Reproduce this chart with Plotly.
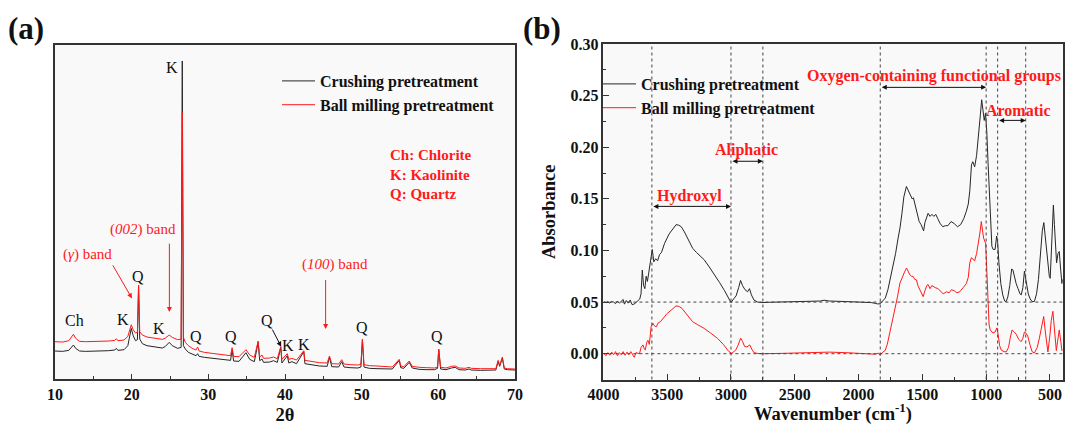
import plotly.graph_objects as go

# ---------------- Panel (a): XRD ----------------
two_theta = [10.0, 11.0, 11.8, 12.2, 12.4, 12.7, 13.2, 14.0, 15.0, 16.0, 17.0, 17.8, 18.0, 18.2,
             19.0, 19.5, 19.8, 19.95, 20.2, 20.5, 20.75, 20.9, 21.05, 21.4, 22.0, 23.0, 24.0, 24.4,
             24.9, 25.3, 26.0, 26.45, 26.6, 26.75, 27.0, 27.4, 27.9, 28.4, 28.6, 28.8, 29.5, 30.5,
             31.5, 32.5, 32.9, 33.1, 33.3, 34.0, 34.9, 35.4, 36.0, 36.5, 36.7, 37.0, 37.2, 38.0,
             38.5, 39.0, 39.45, 39.6, 40.3, 40.5, 40.9, 41.5, 42.45, 42.6, 43.5, 44.5, 45.5, 45.8,
             46.1, 47.0, 47.4, 47.7, 48.5, 49.5, 49.9, 50.1, 50.3, 51.0, 52.0, 53.0, 54.0, 54.9,
             55.1, 55.5, 56.2, 56.6, 57.5, 58.5, 59.5, 59.9, 60.05, 60.3, 61.0, 61.7, 62.2, 62.7,
             63.5, 64.0, 64.3, 65.5, 66.5, 67.5, 67.8, 68.0, 68.35, 68.6, 69.0, 70.0]
xrd_crushing = [8.4, 8.3, 8.6, 9.6, 10.2, 9.2, 8.4, 8.3, 8.3, 8.4, 8.5, 8.7, 9.2, 8.6,
                8.8, 10.0, 14.0, 15.2, 13.0, 11.5, 11.8, 28.0, 12.0, 10.6, 10.0, 9.6, 9.3, 9.8,
                11.0, 10.0, 9.2, 9.5, 95.5, 10.0, 9.0, 8.0, 7.4, 7.0, 7.6, 6.8, 6.5, 6.2,
                5.9, 5.6, 5.6, 8.8, 5.4, 5.3, 7.9, 5.9, 5.2, 11.0, 5.5, 6.0, 5.0, 5.1,
                5.5, 5.0, 9.5, 4.8, 7.0, 4.8, 5.2, 4.6, 8.2, 4.6, 4.2, 3.9, 3.8, 6.5,
                3.7, 3.6, 5.2, 3.6, 3.4, 3.3, 3.6, 11.8, 3.6, 3.2, 3.1, 3.0, 3.0, 5.6,
                3.4, 3.2, 5.0, 3.3, 2.9, 2.8, 2.8, 3.2, 8.8, 3.0, 2.8, 3.3, 3.5, 2.8,
                2.7, 3.0, 2.7, 2.6, 2.6, 2.7, 5.3, 3.8, 6.3, 3.0, 2.8, 2.7]
xrd_ball = [11.2, 11.1, 11.5, 12.6, 13.4, 12.2, 11.3, 11.2, 11.2, 11.3, 11.4, 11.6, 12.1, 11.5,
            11.7, 12.8, 15.5, 16.3, 14.8, 13.8, 14.0, 28.2, 14.2, 13.2, 12.6, 12.2, 11.9, 12.3,
            13.2, 12.5, 11.8, 12.0, 80.0, 12.5, 11.0, 10.0, 9.2, 8.7, 9.6, 8.4, 8.0, 7.7,
            7.4, 7.1, 7.0, 9.4, 6.8, 6.7, 8.8, 7.2, 6.5, 11.4, 6.6, 7.2, 6.2, 6.3,
            6.6, 6.1, 9.7, 5.9, 7.6, 5.9, 6.2, 5.7, 8.5, 5.6, 5.2, 4.9, 4.8, 6.9,
            4.6, 4.5, 5.8, 4.5, 4.3, 4.2, 4.4, 12.0, 4.3, 4.0, 3.9, 3.7, 3.6, 5.9,
            3.9, 3.7, 5.4, 3.8, 3.5, 3.4, 3.3, 3.6, 9.0, 3.5, 3.3, 3.8, 3.9, 3.3,
            3.2, 3.5, 3.2, 3.1, 3.0, 3.1, 5.6, 4.1, 6.6, 3.3, 3.1, 3.0]
xrd_ticks = [10, 20, 30, 40, 50, 60, 70]

# phase labels: text, 2theta, height
phase_text = ["K", "Ch", "K", "Q", "K", "Q", "Q", "Q", "K", "K", "Q", "Q"]
phase_x = [25.2, 12.6, 18.9, 20.8, 23.6, 28.45, 32.9, 37.6, 40.4, 42.5, 50.1, 59.8]
phase_y = [93.5, 17.5, 18.0, 30.8, 15.3, 12.9, 12.7, 17.5, 10.2, 10.5, 15.4, 12.9]

# ---------------- Panel (b): FTIR ----------------
wn_crushing = [3995, 3980, 3965, 3950, 3935, 3920, 3905, 3890, 3875, 3860, 3845, 3835, 3820, 3805,
               3790, 3775, 3760, 3745, 3730, 3715, 3705, 3695, 3685, 3675, 3665, 3655, 3645, 3635,
               3625, 3617, 3605, 3590, 3575, 3560, 3545, 3520, 3485, 3450, 3430, 3410, 3390, 3365,
               3330, 3300, 3270, 3240, 3210, 3170, 3130, 3090, 3050, 3020, 3000, 2980, 2960, 2940,
               2925, 2910, 2890, 2870, 2855, 2840, 2820, 2790, 2760, 2700, 2600, 2500, 2400, 2300,
               2270, 2230, 2100, 2000, 1950, 1900, 1870, 1850, 1830, 1810, 1790, 1770, 1750, 1730,
               1710, 1690, 1675, 1660, 1645, 1625, 1610, 1595, 1580, 1570, 1555, 1540, 1525, 1510,
               1500, 1490, 1480, 1465, 1455, 1440, 1425, 1410, 1395, 1380, 1360, 1340, 1320, 1300,
               1275, 1250, 1225, 1200, 1175, 1155, 1140, 1128, 1115, 1105, 1090, 1075, 1060, 1045,
               1035, 1025, 1015, 1005, 995, 985, 975, 965, 955, 945, 930, 918, 910, 900,
               885, 870, 855, 843, 830, 815, 800, 790, 775, 765, 750, 735, 725, 712,
               700, 690, 680, 670, 655, 640, 622, 605, 590, 575, 560, 548, 535, 520,
               505, 498, 488, 478, 473, 465, 455, 448, 437, 427, 415, 406, 401]
abs_crushing = [0.050, 0.0495, 0.0505, 0.049, 0.0505, 0.050, 0.0485, 0.051, 0.049, 0.0505, 0.0525, 0.048, 0.0515, 0.049,
                0.052, 0.0475, 0.048, 0.0495, 0.051, 0.053, 0.058, 0.081, 0.066, 0.063, 0.075, 0.070, 0.078, 0.085,
                0.092, 0.101, 0.089, 0.092, 0.090, 0.096, 0.098, 0.107, 0.116, 0.122, 0.125, 0.1245, 0.123, 0.118,
                0.109, 0.102, 0.098, 0.094, 0.091, 0.084, 0.077, 0.069, 0.061, 0.054, 0.0495, 0.053, 0.056, 0.064,
                0.071, 0.066, 0.062, 0.060, 0.063, 0.057, 0.052, 0.050, 0.0495, 0.0498, 0.050, 0.0505, 0.0505, 0.051,
                0.0518, 0.051, 0.0505, 0.0502, 0.050, 0.0495, 0.0488, 0.0482, 0.0484, 0.051, 0.054, 0.062, 0.073, 0.084,
                0.097, 0.112, 0.122, 0.136, 0.152, 0.162, 0.158, 0.153, 0.150, 0.151, 0.143, 0.137, 0.128, 0.125,
                0.121, 0.119, 0.127, 0.133, 0.136, 0.133, 0.135, 0.133, 0.135, 0.131, 0.126, 0.123, 0.124, 0.124,
                0.128, 0.126, 0.123, 0.125, 0.131, 0.138, 0.145, 0.158, 0.183, 0.186, 0.181, 0.192, 0.209, 0.232,
                0.246, 0.232, 0.226, 0.233, 0.215, 0.185, 0.155, 0.128, 0.104, 0.101, 0.101, 0.114, 0.108, 0.088,
                0.068, 0.057, 0.051, 0.0505, 0.055, 0.066, 0.082, 0.081, 0.072, 0.068, 0.063, 0.058, 0.057, 0.064,
                0.080, 0.072, 0.064, 0.058, 0.053, 0.0505, 0.0505, 0.058, 0.072, 0.098, 0.119, 0.127, 0.112, 0.090,
                0.075, 0.073, 0.100, 0.138, 0.144, 0.125, 0.096, 0.088, 0.097, 0.099, 0.080, 0.068, 0.072]

wn_ball = [3995, 3980, 3965, 3950, 3935, 3920, 3905, 3890, 3875, 3860, 3845, 3830, 3815, 3800,
           3785, 3770, 3758, 3745, 3730, 3717, 3705, 3690, 3680, 3672, 3660, 3651, 3640, 3632,
           3626, 3612, 3600, 3586, 3570, 3553, 3540, 3522, 3500, 3470, 3445, 3431, 3415, 3405,
           3385, 3366, 3340, 3301, 3260, 3210, 3160, 3106, 3060, 3016, 2994, 2975, 2963, 2945,
           2924, 2910, 2893, 2875, 2853, 2835, 2820, 2790, 2750, 2600, 2450, 2300, 2270, 2230,
           2100, 2000, 1950, 1900, 1870, 1845, 1832, 1815, 1792, 1775, 1753, 1735, 1714, 1695,
           1676, 1660, 1640, 1624, 1610, 1598, 1585, 1572, 1560, 1546, 1535, 1520, 1505, 1494,
           1480, 1465, 1455, 1440, 1425, 1416, 1400, 1376, 1355, 1337, 1310, 1290, 1272, 1250,
           1230, 1207, 1180, 1155, 1140, 1129, 1116, 1100, 1090, 1075, 1064, 1050, 1038, 1028,
           1020, 1004, 995, 986, 977, 968, 947, 930, 916, 905, 895, 882, 860, 843,
           825, 810, 797, 780, 765, 745, 726, 712, 700, 688, 674, 655, 640, 622,
           600, 583, 565, 549, 535, 516, 500, 490, 477, 465, 450, 440, 427, 415,
           406, 401]
abs_ball = [0.000, -0.002, 0.001, -0.0015, 0.0015, -0.001, 0.002, -0.002, 0.001, -0.001, 0.002, -0.0015, 0.0015, -0.001,
            0.002, -0.002, -0.0035, 0.001, 0.0005, 0.000, 0.006, 0.0085, 0.005, 0.0035, 0.011, 0.013, 0.009, 0.019,
            0.026, 0.0295, 0.027, 0.026, 0.030, 0.031, 0.033, 0.036, 0.039, 0.042, 0.045, 0.0463, 0.046, 0.0456,
            0.044, 0.041, 0.037, 0.031, 0.028, 0.0245, 0.020, 0.0149, 0.009, 0.002, 0.0003, 0.002, 0.0035, 0.008,
            0.015, 0.012, 0.007, 0.0065, 0.0085, 0.004, 0.001, 0.0002, 0.000, 0.0003, 0.001, 0.0015, 0.002, 0.0015,
            0.001, 0.0005, 0.0003, 0.000, -0.0005, 0.0005, -0.0015, 0.001, 0.003, 0.009, 0.0213, 0.031, 0.0424, 0.055,
            0.0683, 0.074, 0.079, 0.083, 0.079, 0.0764, 0.075, 0.0748, 0.072, 0.0715, 0.066, 0.062, 0.058, 0.0553,
            0.061, 0.066, 0.067, 0.063, 0.066, 0.065, 0.064, 0.063, 0.060, 0.058, 0.060, 0.059, 0.062, 0.061,
            0.059, 0.060, 0.064, 0.068, 0.074, 0.0875, 0.093, 0.091, 0.090, 0.097, 0.104, 0.116, 0.128, 0.119,
            0.112, 0.107, 0.075, 0.039, 0.028, 0.023, 0.020, 0.021, 0.025, 0.018, 0.008, 0.0036, 0.002, 0.0017,
            0.006, 0.016, 0.023, 0.021, 0.019, 0.014, 0.0116, 0.015, 0.021, 0.020, 0.017, 0.008, 0.002, 0.0007,
            0.006, 0.015, 0.027, 0.036, 0.020, 0.0017, 0.018, 0.032, 0.041, 0.022, 0.003, 0.012, 0.023, 0.012,
            0.003, 0.004]

region_lines = [3620, 3000, 2750, 1830, 1000, 910, 690]
baselines = [0.05, 0.00]
band_names = ["Hydroxyl", "Aliphatic", "Oxygen-containing functional groups", "Aromatic"]
band_text_x = [3327, 2876, 1405, 743]
band_text_y = [0.153, 0.197, 0.269, 0.2356]
band_from = [3620, 3000, 1830, 910]
band_to = [3000, 2750, 1000, 690]
band_arrow_y = [0.1427, 0.1864, 0.258, 0.226]

W, H = 1065, 425
SERIF = "Liberation Serif, Times New Roman, serif"
BLACK = "#262626"
RED = "#ff1a1a"

fig = go.Figure()
fig.add_trace(go.Scatter(x=two_theta, y=xrd_crushing, mode="lines", name="Crushing pretreatment",
                         line=dict(color=BLACK, width=1), xaxis="x", yaxis="y", legend="legend"))
fig.add_trace(go.Scatter(x=two_theta, y=xrd_ball, mode="lines", name="Ball milling pretreatment",
                         line=dict(color=RED, width=1), xaxis="x", yaxis="y", legend="legend"))
fig.add_trace(go.Scatter(x=wn_crushing, y=abs_crushing, mode="lines", name="Crushing pretreatment",
                         line=dict(color=BLACK, width=1), xaxis="x2", yaxis="y2", legend="legend2"))
fig.add_trace(go.Scatter(x=wn_ball, y=abs_ball, mode="lines", name="Ball milling pretreatment",
                         line=dict(color=RED, width=1), xaxis="x2", yaxis="y2", legend="legend2"))

def px2fx(px):
    return px / W

def py2fy(py):
    return 1 - py / H

ax_line = dict(showline=True, linecolor="#333333", linewidth=1.5, mirror=True,
               showgrid=False, zeroline=False, automargin=False)
tickfont = dict(family=SERIF, size=16, color="#111", weight="bold")
titlefont = dict(family=SERIF, size=18.5, color="#111", weight="bold")
legfont = dict(family=SERIF, size=16, color="#111", weight="bold")

layout = dict(
    template="none",
    width=W, height=H, margin=dict(l=0, r=0, t=0, b=0, pad=0, autoexpand=False),
    paper_bgcolor="white", plot_bgcolor="#f9f9f9",
    font=dict(family=SERIF, color="#111"),
    xaxis=dict(domain=[px2fx(55), px2fx(515)], range=[10, 70], anchor="y",
               tickvals=xrd_ticks, ticks="inside", ticklen=5, tickwidth=1.2, tickcolor="#333",
               minor=dict(dtick=5, tick0=0, ticks="inside", ticklen=3, tickcolor="#333"),
               tickfont=tickfont,
               title=dict(text="2θ", font=titlefont, standoff=6),
               **ax_line),
    yaxis=dict(domain=[py2fy(379), py2fy(45)], range=[0, 100.3], anchor="x",
               showticklabels=False, ticks="", **ax_line),
    xaxis2=dict(domain=[px2fx(603.4), px2fx(1062.7)], range=[4000, 400], anchor="y2",
                tickvals=[4000, 3500, 3000, 2500, 2000, 1500, 1000, 500],
                ticks="inside", ticklen=6, tickwidth=1.2, tickcolor="#333",
                minor=dict(dtick=250, tick0=0, ticks="inside", ticklen=3, tickcolor="#333"),
                tickfont=tickfont,
                title=dict(text="Wavenumber (cm<sup>-1</sup>)", font=titlefont, standoff=4),
                **ax_line),
    yaxis2=dict(domain=[py2fy(379.5), py2fy(44)], range=[-0.025, 0.30], anchor="x2",
                tickvals=[0.0, 0.05, 0.10, 0.15, 0.20, 0.25, 0.30], tickformat=".2f",
                ticks="inside", ticklen=6, tickwidth=1.2, tickcolor="#333",
                minor=dict(dtick=0.025, tick0=0, ticks="inside", ticklen=3, tickcolor="#333"),
                tickfont=tickfont,
                title=dict(text="Absorbance", font=titlefont, standoff=10),
                **ax_line),
    legend=dict(x=px2fx(277), y=py2fy(64), xanchor="left", yanchor="top", itemwidth=33,
                bgcolor="rgba(0,0,0,0)", borderwidth=0, tracegroupgap=0, font=legfont),
    legend2=dict(x=px2fx(598), y=py2fy(67), xanchor="left", yanchor="top", itemwidth=33,
                 bgcolor="rgba(0,0,0,0)", borderwidth=0, tracegroupgap=0, font=legfont),
    showlegend=True,
)
fig.update_layout(**layout)

shapes = []
for wv in region_lines:
    shapes.append(dict(type="line", xref="x2", yref="y2 domain", x0=wv, x1=wv, y0=0, y1=1,
                       line=dict(color="#444", width=1, dash="dot")))
for b in baselines:
    shapes.append(dict(type="line", xref="x2 domain", yref="y2", x0=0, x1=1, y0=b, y1=b,
                       line=dict(color="#444", width=1, dash="dot")))
fig.update_layout(shapes=shapes)

ann = []
ann.append(dict(text="(a)", xref="paper", yref="paper", x=px2fx(6), y=py2fy(28), xanchor="left",
                yanchor="middle", showarrow=False, font=dict(family=SERIF, size=31, weight="bold", color="#111")))
ann.append(dict(text="(b)", xref="paper", yref="paper", x=px2fx(521), y=py2fy(28), xanchor="left",
                yanchor="middle", showarrow=False, font=dict(family=SERIF, size=31, weight="bold", color="#111")))
for t, xx, yy in zip(phase_text, phase_x, phase_y):
    ann.append(dict(text=t, x=xx, y=yy, xref="x", yref="y", showarrow=False,
                    font=dict(family=SERIF, size=16, color="#111")))
ann.append(dict(text="", x=39.5, y=9.7, ax=38.25, ay=15.3, xref="x", yref="y", axref="x", ayref="y",
                showarrow=True, arrowhead=2, arrowsize=1, arrowwidth=1, arrowcolor="#111"))
for i, t in enumerate(["Ch: Chlorite", "K: Kaolinite", "Q: Quartz"]):
    ann.append(dict(text=t, xref="paper", yref="paper", x=px2fx(388), y=py2fy(155 + 19.5 * i),
                    xanchor="left", yanchor="middle", showarrow=False,
                    font=dict(family=SERIF, size=15, color=RED, weight="bold")))
band_a = [("(<i>γ</i>) band", 14.3, 37.4, 20.04, 24.2, 17.43, 34.6),
          ("(<i>002</i>) band", 21.5, 44.9, 24.92, 20.1, 24.92, 41.1),
          ("(<i>100</i>) band", 46.5, 34.3, 45.3, 15.0, 45.3, 30.2)]
for t, tx, ty, hx, hy, sx, sy in band_a:
    ann.append(dict(text=t, x=tx, y=ty, xref="x", yref="y", showarrow=False,
                    font=dict(family=SERIF, size=15, color=RED)))
    ann.append(dict(text="", x=hx, y=hy, ax=sx, ay=sy, xref="x", yref="y", axref="x", ayref="y",
                    showarrow=True, arrowhead=2, arrowsize=1, arrowwidth=1, arrowcolor=RED))
for name, tx, ty, f, t2, ay in zip(band_names, band_text_x, band_text_y, band_from, band_to, band_arrow_y):
    ann.append(dict(text=name, x=tx, y=ty, xref="x2", yref="y2", showarrow=False,
                    font=dict(family=SERIF, size=16, color=RED, weight="bold")))
    ann.append(dict(text="", x=t2, y=ay, ax=f, ay=ay, xref="x2", yref="y2", axref="x2", ayref="y2",
                    showarrow=True, arrowhead=2, startarrowhead=2, arrowside="end+start",
                    arrowsize=1, arrowwidth=1, arrowcolor="#111"))
fig.update_layout(annotations=ann)

fig.write_html("out.html", config={"displayModeBar": False},
               post_script="document.body.style.margin='0';")
